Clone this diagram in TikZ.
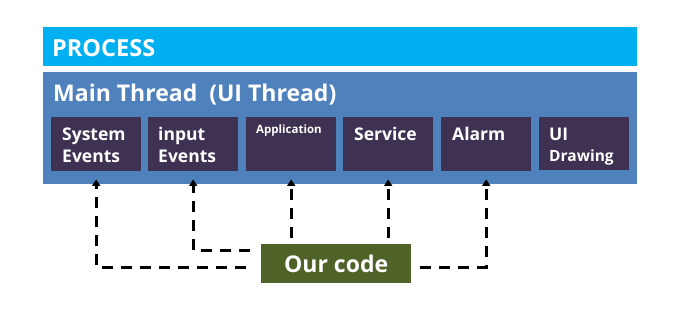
\documentclass[tikz,border=0pt]{standalone}
\usepackage{fontspec}
\setmainfont{Open Sans}
\usetikzlibrary{arrows.meta}
\definecolor{procc}{HTML}{00B0F0}
\definecolor{mainc}{HTML}{4F81BD}
\definecolor{innerc}{HTML}{3F3151}
\definecolor{olivec}{HTML}{4F6228}
\begin{document}
\begin{tikzpicture}[x=1pt,y=-1pt,
  band/.style={inner sep=0pt, anchor=north west},
  ibox/.style={fill=innerc, inner sep=0pt, anchor=north west, minimum width=90pt, minimum height=54pt},
  itext/.style={text=white, font=\bfseries\fontsize{17.5}{19}\selectfont, anchor=base west, inner sep=0pt},
  dl/.style={draw=black, line width=3pt, dash pattern=on 11pt off 8pt},
  arr/.style={-{Triangle[width=8pt,length=6.5pt]}, shorten >=8pt}
]
\useasboundingbox (0,0) rectangle (682,319);
\fill[white] (0,0) rectangle (682,319);
\node[band, fill=procc, minimum width=594pt, minimum height=39pt] (proc) at (43,27) {};
\node[text=white, font=\bfseries\fontsize{23.5}{26}\selectfont, anchor=base west, inner sep=0pt] (proct) at (52,56) {PROCESS};
\node[band, fill=mainc, minimum width=594pt, minimum height=112pt] (main) at (43,72) {};
\node[text=white, font=\bfseries\fontsize{23}{26}\selectfont, anchor=base west, inner sep=0pt] (maint) at (53,101) {Main Thread\hspace{6pt} (UI Thread)};
\node[ibox] (b1) at (51,117) {};
\node[ibox] (b2) at (148,117) {};
\node[ibox] (b3) at (246,117) {};
\node[ibox] (b4) at (343,117) {};
\node[ibox] (b5) at (441,117) {};
\node[ibox, minimum height=53pt] (b6) at (539,117) {};
\node[itext] (t1a) at (62,140) {System};
\node[itext] (t1b) at (62,162) {Events};
\node[itext] (t2a) at (158,140) {input};
\node[itext] (t2b) at (158,162) {Events};
\node[itext, font=\bfseries\fontsize{11.5}{13}\selectfont] (t3a) at (256,133) {Application};
\node[itext] (t4a) at (354,140) {Service};
\node[itext] (t5a) at (452,140) {Alarm};
\node[itext] (t6a) at (549,140) {UI};
\node[itext, font=\bfseries\fontsize{15.5}{17}\selectfont] (t6b) at (549,161) {Drawing};
\node[band, fill=olivec, minimum width=150pt, minimum height=39pt] (oc) at (261,244) {};
\node[text=white, font=\bfseries\fontsize{23}{26}\selectfont, inner sep=0pt] (oct) at (oc.center) {Our code};
\coordinate (l1) at (246,267);
\coordinate (l2) at (250,250);
\coordinate (l5) at (420,267);
\coordinate (u3) at (291,238);
\coordinate (u4) at (388,238);
\draw[dl, arr] (l1) -| (b1.south);
\draw[dl, arr] (l2) -| (b2.south);
\draw[dl, arr] (u3 -| b3.south) -- (b3.south);
\draw[dl, arr] (u4 -| b4.south) -- (b4.south);
\draw[dl, arr] (l5) -| (b5.south);
\end{tikzpicture}
\end{document}
